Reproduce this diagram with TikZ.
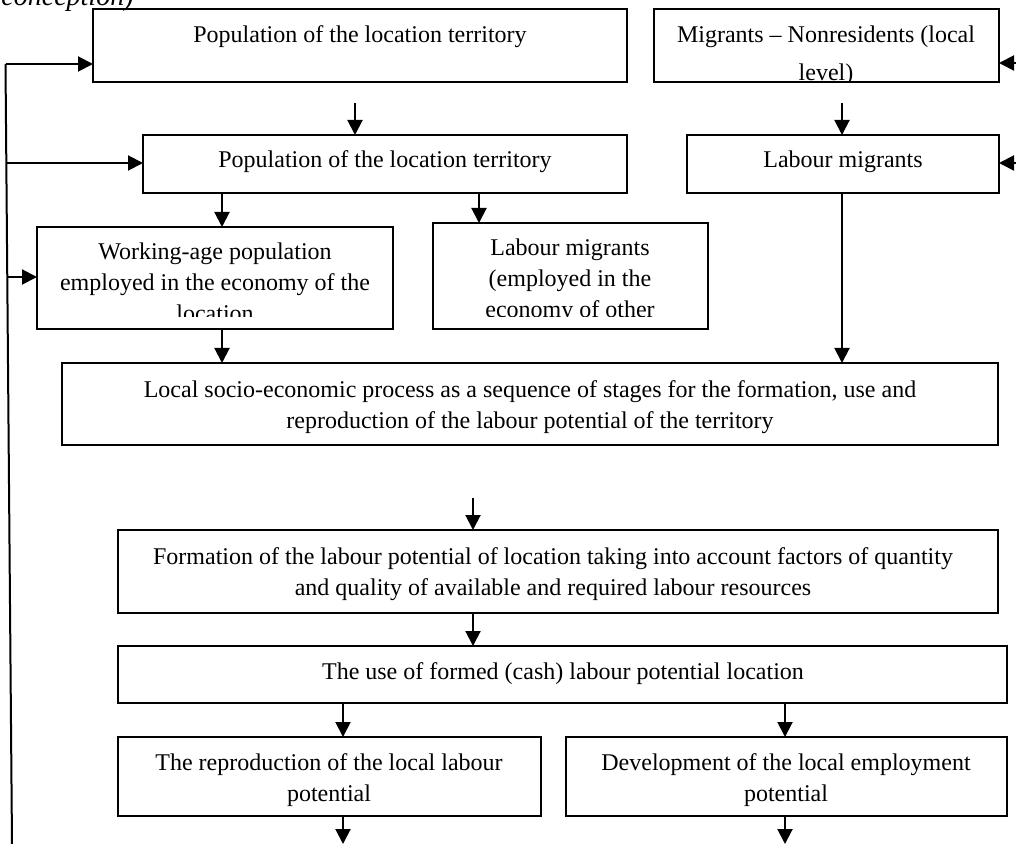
\documentclass[tikz,border=0pt]{standalone}
\usepackage{fontspec}
\setmainfont{Liberation Serif}
\usetikzlibrary{arrows.meta,fit}
\newcommand\ml[1]{\begin{tabular}[t]{@{}c@{}}#1\end{tabular}}
\begin{document}
\begin{tikzpicture}[x=0.5pt,y=-0.5pt,
  bx/.style={draw, line width=0.65pt, inner sep=0pt, outer sep=0pt, rectangle},
  txt/.style={anchor=base, inner sep=0pt, font=\fontsize{12}{15.5}\selectfont},
  arr/.style={line width=1pt, -{Triangle[length=7.5pt,width=7.5pt]}},
  ln/.style={line width=1pt}]
\useasboundingbox (0,0) rectangle (1016,844);

% title fragment
\node[txt, anchor=base west, font=\fontsize{14}{16}\selectfont\itshape] (title) at (1,6) {conception)};

% box corners
\coordinate (a1) at (93,9);   \coordinate (a2) at (627,82);
\coordinate (b1) at (654,9);  \coordinate (b2) at (999,82);
\coordinate (c1) at (143,135); \coordinate (c2) at (627,193);
\coordinate (d1) at (687,135); \coordinate (d2) at (999,193);
\coordinate (e1) at (37,227);  \coordinate (e2) at (393,329);
\coordinate (f1) at (433,223); \coordinate (f2) at (708,329);
\coordinate (g1) at (62,363);  \coordinate (g2) at (998,445);
\coordinate (h1) at (118,530); \coordinate (h2) at (998,613);
\coordinate (i1) at (118,646); \coordinate (i2) at (1007,703);
\coordinate (j1) at (118,737); \coordinate (j2) at (541,816);
\coordinate (k1) at (566,737); \coordinate (k2) at (1007,816);

\node[bx, fit=(a1)(a2)] (A) {};
\node[bx, fit=(b1)(b2)] (B) {};
\node[bx, fit=(c1)(c2)] (C) {};
\node[bx, fit=(d1)(d2)] (D) {};
\node[bx, fit=(e1)(e2)] (E) {};
\node[bx, fit=(f1)(f2)] (F) {};
\node[bx, fit=(g1)(g2)] (G) {};
\node[bx, fit=(h1)(h2)] (H) {};
\node[bx, fit=(i1)(i2)] (I) {};
\node[bx, fit=(j1)(j2)] (J) {};
\node[bx, fit=(k1)(k2)] (K) {};

% texts
\node[txt] (At) at (360,43) {Population of the location territory};
\begin{scope}
  \clip (654,9) rectangle (999,82);
  \node[txt] (Bt) at (826,43) {\ml{Migrants – Nonresidents (local\\[3.5pt] level)}};
\end{scope}
\node[txt] (Ct) at (385,168) {Population of the location territory};
\node[txt] (Dt) at (843,168) {Labour migrants};
\begin{scope}
  \clip (37,227) rectangle (393,317);
  \node[txt] (Et) at (215,260) {\ml{Working-age population\\ employed in the economy of the\\ location}};
\end{scope}
\begin{scope}
  \clip (433,223) rectangle (708,317);
  \node[txt] (Ft) at (570,256) {\ml{Labour migrants\\ (employed in the\\ economy of other}};
\end{scope}
\node[txt] (Gt) at (530,397) {\ml{Local socio-economic process as a sequence of stages for the formation, use and\\ reproduction of the labour potential of the territory}};
\node[txt] (Ht) at (553,564) {\ml{Formation of the labour potential of location taking into account factors of quantity\\ and quality of available and required labour resources}};
\node[txt] (It) at (563,679) {The use of formed (cash) labour potential location};
\node[txt] (Jt) at (329,770) {\ml{The reproduction of the local labour\\ potential}};
\node[txt] (Kt) at (786,770) {\ml{Development of the local employment\\ potential}};

% x positions of vertical connectors
\coordinate (xce) at (222,0);
\coordinate (xcf) at (479,0);
\coordinate (xdg) at (842,0);
\coordinate (xij) at (343,0);
\coordinate (xik) at (785,0);

% vertical connectors
\coordinate (ac) at (355,103);
\draw[arr] (ac) -- (ac |- C.north);
\coordinate (bd) at (842,103);
\draw[arr] (bd) -- (bd |- D.north);
\draw[arr] (C.south -| xce) -- (E.north -| xce);
\draw[arr] (C.south -| xcf) -- (F.north -| xcf);
\draw[arr] (D.south -| xdg) -- (G.north -| xdg);
\draw[arr] (E.south -| xce) -- (G.north -| xce);
\coordinate (hin) at (473,498);
\draw[arr] (hin) -- (hin |- H.north);
\draw[arr] (H.south -| hin) -- (I.north -| hin);
\draw[arr] (I.south -| xij) -- (J.north -| xij);
\draw[arr] (I.south -| xik) -- (K.north -| xik);
\coordinate (jout) at (343,844);
\coordinate (kout) at (785,844);
\draw[arr] (J.south -| jout) -- (jout);
\draw[arr] (K.south -| kout) -- (kout);

% left feedback line
\coordinate (fbtop) at (5.5,64);
\coordinate (fbbot) at (12,844);
\coordinate (fbc) at (6.3,163);
\coordinate (fbe) at (7.3,277);
\draw[ln] (fbtop) -- (fbbot);
\draw[arr] (fbtop) -- (fbtop -| A.west);
\draw[arr] (fbc) -- (fbc -| C.west);
\draw[arr] (fbe) -- (fbe -| E.west);

% right incoming arrows
\coordinate (rb) at (1016,63);
\coordinate (rd) at (1016,163);
\draw[arr] (rb) -- (rb -| B.east);
\draw[arr] (rd) -- (rd -| D.east);
\end{tikzpicture}
\end{document}
